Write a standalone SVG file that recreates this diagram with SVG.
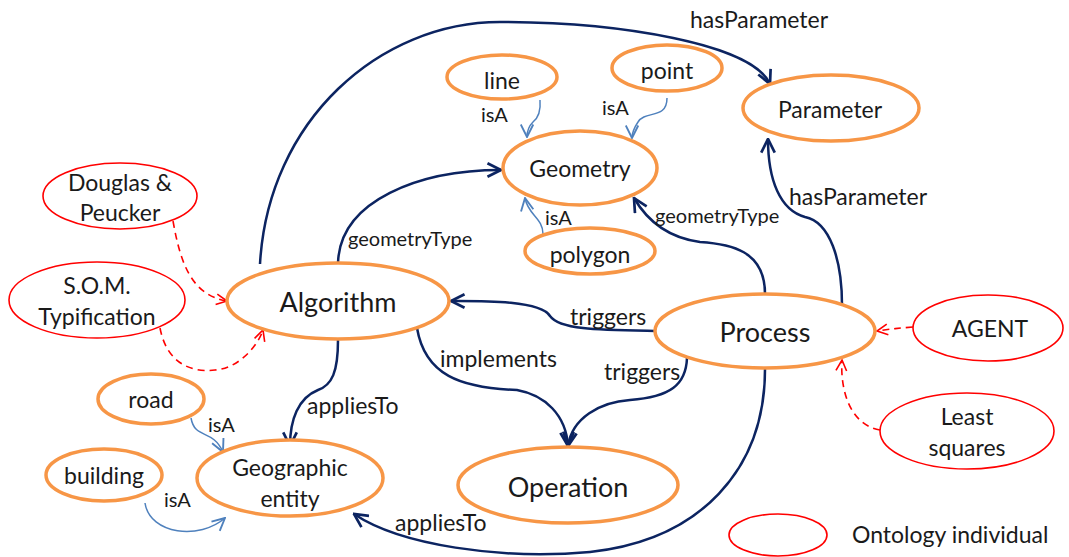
<svg xmlns="http://www.w3.org/2000/svg" width="1069" height="557" viewBox="0 0 1069 557">
<style>
  .cls { fill: #ffffff; stroke: #F79646; stroke-width: 3.5; }
  .ind { fill: #ffffff; stroke: #FF0000; stroke-width: 1.6; }
  .t { font-family: Lato, "Liberation Sans", sans-serif; fill: #1a1a1a; text-anchor: middle; dominant-baseline: central; }
  .n { font-size: 23px; }
  .b { font-size: 27px; }
  .el { font-family: Lato, "Liberation Sans", sans-serif; fill: #1a1a1a; font-size: 23px; }
  .gt { font-size: 20px; }
  .ia { font-size: 20px; }
  .rel { fill: none; stroke: #0C2461; stroke-width: 2.5; marker-end: url(#navy); }
  .isa { fill: none; stroke: #4F81BD; stroke-width: 1.5; marker-end: url(#blue); }
  .inst { fill: none; stroke: #FF0000; stroke-width: 1.6; stroke-dasharray: 7 5; marker-end: url(#red); }
</style>
<defs>
  <marker id="navy" viewBox="0 0 12 12" refX="11" refY="6" markerWidth="6.5" markerHeight="6.5" orient="auto" markerUnits="strokeWidth">
    <path d="M1,1 L11,6 L1,11" fill="none" stroke="#0C2461" stroke-width="2"/>
  </marker>
  <marker id="blue" viewBox="0 0 12 12" refX="11" refY="6" markerWidth="10" markerHeight="10" orient="auto" markerUnits="strokeWidth">
    <path d="M1,1 L11,6 L1,11" fill="none" stroke="#4F81BD" stroke-width="1.5"/>
  </marker>
  <marker id="red" viewBox="0 0 12 12" refX="11" refY="6" markerWidth="8" markerHeight="8" orient="auto" markerUnits="strokeWidth">
    <path d="M1,1 L11,6 L1,11" fill="none" stroke="#FF0000" stroke-width="1.5"/>
  </marker>
</defs>

<g id="connectors">
  <path class="rel" d="M 260 264 C 268 120 380 22 500 22 C 620 22 752 44 770 84"/>
  <path class="rel" d="M 338 263 C 340 200 420 170 501 170"/>
  <path class="rel" d="M 765 294 C 765 250 730 244 700 242 C 670 238 648 222 634 198"/>
  <path class="rel" d="M 842 305 C 842 260 830 222 805 217 C 780 210 768 180 768 139"/>
  <path class="rel" d="M 655 331 C 600 330 560 330 550 316 C 540 300 480 301 451 301"/>
  <path class="rel" d="M 417 328 C 425 375 460 388 517 390 C 545 395 566 415 568 446"/>
  <path class="rel" d="M 687 358 C 686 385 670 397 630 400 C 600 402 572 418 568 446"/>
  <path class="rel" d="M 338 340 C 338 372 332 385 318 390 C 298 398 290 420 290 446"/>
  <path class="rel" d="M 765 369 C 765 470 700 540 590 552 C 500 560 400 545 354 514"/>

  <path class="isa" d="M 540 100 C 541 112 538 118 533 122 C 528 127 527 132 527 137"/>
  <path class="isa" d="M 667 98 C 667 120 645 110 638 122 C 634 128 632 133 632 138"/>
  <path class="isa" d="M 543 234 C 543 218 528 215 525 198"/>
  <path class="isa" d="M 191 418 C 195 440 212 428 223 452"/>
  <path class="isa" d="M 145 503 C 150 535 200 540 225 518"/>

  <path class="inst" d="M 173 221 C 180 260 190 295 227 301"/>
  <path class="inst" d="M 160 328 C 168 370 200 372 215 370 C 240 368 258 345 263 330"/>
  <path class="inst" d="M 913 327 C 900 328 890 329 877 331"/>
  <path class="inst" d="M 880 430 C 850 425 840 390 842 360"/>
</g>

<g id="edge-labels">
  <text class="el" x="690" y="28">hasParameter</text>
  <text class="el gt" x="348" y="246">geometryType</text>
  <text class="el gt" x="655" y="223">geometryType</text>
  <text class="el" x="789" y="205">hasParameter</text>
  <text class="el" x="570" y="325">triggers</text>
  <text class="el" x="440" y="367">implements</text>
  <text class="el" x="604" y="380">triggers</text>
  <text class="el" x="307" y="414">appliesTo</text>
  <text class="el" x="395" y="531">appliesTo</text>
  <text class="el ia" x="481" y="122">isA</text>
  <text class="el ia" x="602" y="115">isA</text>
  <text class="el ia" x="545" y="225">isA</text>
  <text class="el ia" x="208" y="432">isA</text>
  <text class="el ia" x="164" y="507">isA</text>
</g>

<g id="line"><ellipse class="cls" cx="502" cy="77" rx="55" ry="22"/><text class="t n" x="502" y="80">line</text></g>
<g id="point"><ellipse class="cls" cx="667" cy="68" rx="55" ry="23"/><text class="t n" x="667" y="70">point</text></g>
<g id="parameter"><ellipse class="cls" cx="831" cy="108" rx="88" ry="33"/><text class="t n" x="830" y="109">Parameter</text></g>
<g id="geometry"><ellipse class="cls" cx="580" cy="168" rx="77" ry="37"/><text class="t n" x="580" y="168">Geometry</text></g>
<g id="polygon"><ellipse class="cls" cx="590" cy="251" rx="65" ry="23"/><text class="t n" x="590" y="254">polygon</text></g>
<g id="algorithm"><ellipse class="cls" cx="338" cy="301" rx="111" ry="38"/><text class="t b" x="338" y="301">Algorithm</text></g>
<g id="process"><ellipse class="cls" cx="765" cy="331" rx="110" ry="37"/><text class="t b" x="765" y="331">Process</text></g>
<g id="operation"><ellipse class="cls" cx="568" cy="485" rx="110" ry="38"/><text class="t b" x="568" y="486">Operation</text></g>
<g id="geographic-entity"><ellipse class="cls" cx="290" cy="478" rx="93" ry="38"/><text class="t n" x="290" y="467">Geographic</text><text class="t n" x="290" y="498">entity</text></g>
<g id="road"><ellipse class="cls" cx="151" cy="399" rx="53" ry="25"/><text class="t n" x="151" y="399">road</text></g>
<g id="building"><ellipse class="cls" cx="104" cy="475" rx="58" ry="26"/><text class="t n" x="104" y="475">building</text></g>
<g id="douglas-peucker"><ellipse class="ind" cx="120" cy="196" rx="77" ry="33"/><text class="t n" x="120" y="182">Douglas &amp;</text><text class="t n" x="120" y="212">Peucker</text></g>
<g id="som-typification"><ellipse class="ind" cx="97" cy="300" rx="88" ry="38"/><text class="t n" x="97" y="285">S.O.M.</text><text class="t n" x="97" y="316">Typification</text></g>
<g id="agent"><ellipse class="ind" cx="988" cy="328" rx="75" ry="33"/><text class="t n" x="990" y="328">AGENT</text></g>
<g id="least-squares"><ellipse class="ind" cx="967" cy="431" rx="87" ry="38"/><text class="t n" x="967" y="416">Least</text><text class="t n" x="967" y="447">squares</text></g>
<g id="legend"><ellipse class="ind" cx="778" cy="535" rx="49" ry="21"/><text class="el" x="852" y="543">Ontology individual</text></g>
</svg>
